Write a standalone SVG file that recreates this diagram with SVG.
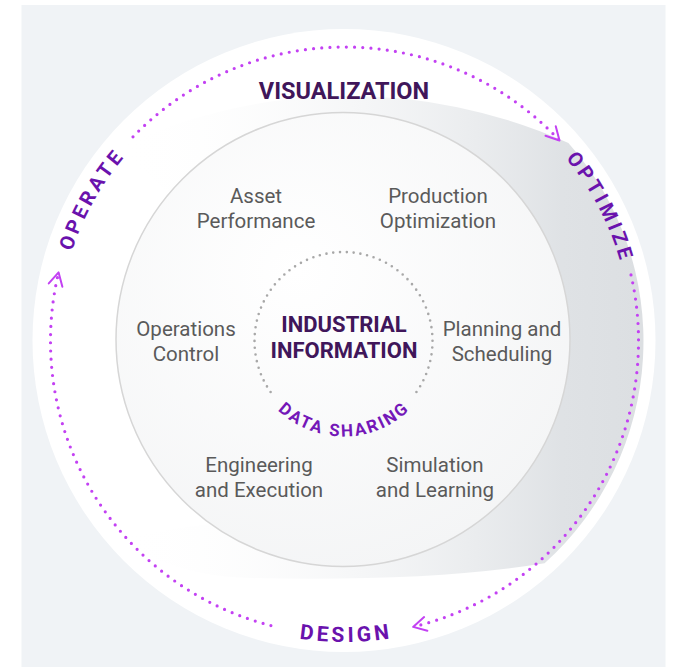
<svg xmlns="http://www.w3.org/2000/svg" width="674" height="669" viewBox="0 0 674 669">
<defs>
<style>
.lbl{font-family:Roboto,'Liberation Sans',sans-serif;font-size:20.5px;fill:#5a5a5a;text-anchor:middle}
.core{font-family:Roboto,'Liberation Sans',sans-serif;font-size:22px;font-weight:700;fill:#40165a;text-anchor:middle}
.ring{font-family:Roboto,'Liberation Sans',sans-serif;font-size:20px;font-weight:700;fill:#6a12ad;letter-spacing:3.5px}
.share{font-family:Roboto,'Liberation Sans',sans-serif;font-size:17px;font-weight:700;fill:#7417b8;letter-spacing:2.2px}
.flow{fill:none;stroke:#c341f3;stroke-width:3.2;stroke-linecap:round;stroke-dasharray:0 8.2}
.gdots{fill:none;stroke:#a8a8a8;stroke-width:2.6;stroke-linecap:round;stroke-dasharray:0 6.8}
</style>
<linearGradient id="rib" gradientUnits="userSpaceOnUse" x1="120" y1="0" x2="640" y2="0">
<stop offset="0" stop-color="#ffffff" stop-opacity="0"/>
<stop offset="0.5" stop-color="#eceef0" stop-opacity="0.6"/>
<stop offset="0.85" stop-color="#dfe2e5"/>
<stop offset="1" stop-color="#dcdfe2"/>
</linearGradient>
<radialGradient id="inner" cx="0.4" cy="0.35" r="0.75">
<stop offset="0" stop-color="#ffffff"/>
<stop offset="1" stop-color="#f3f4f5"/>
</radialGradient>
<marker id="arr" markerUnits="userSpaceOnUse" markerWidth="30" markerHeight="30" viewBox="-15 -15 30 30" refX="0" refY="0" orient="auto" overflow="visible">
<path d="M-13,-7 L0,0 L-13,7" fill="none" stroke="#c341f3" stroke-width="2" stroke-linecap="round" stroke-linejoin="round"/>
</marker>
<path id="pOperate" d="M57.5,344.8 A287,287 0 0 1 197.8,94.4"/>
<path id="pOptimize" d="M498.3,98.7 A287,287 0 0 1 631.2,353"/>
<path id="pDesign" d="M195.4,602.4 A301,301 0 0 0 496.4,600.9"/>
<path id="pShare" d="M249.45,357.6 A95.5,95.5 0 0 0 437.8,355.9"/>
</defs>

<rect x="21.5" y="5" width="644" height="662" fill="#f0f3f6"/>
<circle cx="344" cy="340.5" r="311.5" fill="#ffffff"/>
<path d="M115.5,148.8 A540,540 0 0 1 568.4,142.9 A299,299 0 0 1 544.6,563.2 Q430,582 250,578 Q170,576 120,538 Q300,505 450,515 L300,300 Z" fill="url(#rib)"/>
<circle cx="343" cy="339.5" r="227" fill="url(#inner)" stroke="#d6d6d6" stroke-width="1.5"/>

<g id="connectors">
<path class="flow" d="M133,136.8 A294,294 0 0 1 559.5,140.5" marker-end="url(#arr)"/>
<path class="flow" d="M631,274.9 A294,294 0 0 1 413.1,626.9" marker-end="url(#arr)"/>
<path class="flow" d="M270.9,625.6 A294,294 0 0 1 58.6,272.4" marker-end="url(#arr)"/>
</g>

<g id="operate"><text class="ring"><textPath href="#pOperate" startOffset="50%" text-anchor="middle">OPERATE</textPath></text></g>
<g id="optimize"><text class="ring"><textPath href="#pOptimize" startOffset="50%" text-anchor="middle">OPTIMIZE</textPath></text></g>
<g id="design"><text class="ring" style="font-size:21px;letter-spacing:3.4px"><textPath href="#pDesign" startOffset="50%" text-anchor="middle">DESIGN</textPath></text></g>

<g id="visualization"><text x="344" y="98.5" class="core" style="font-size:23.5px">VISUALIZATION</text></g>

<g id="asset-performance"><text class="lbl" x="256" y="203">Asset</text><text class="lbl" x="256" y="228">Performance</text></g>
<g id="production-optimization"><text class="lbl" x="438" y="203">Production</text><text class="lbl" x="438" y="228">Optimization</text></g>
<g id="operations-control"><text class="lbl" x="186" y="336">Operations</text><text class="lbl" x="186" y="361">Control</text></g>
<g id="planning-scheduling"><text class="lbl" x="502" y="336">Planning and</text><text class="lbl" x="502" y="361">Scheduling</text></g>
<g id="engineering-execution"><text class="lbl" x="259" y="472">Engineering</text><text class="lbl" x="259" y="497">and Execution</text></g>
<g id="simulation-learning"><text class="lbl" x="435" y="472">Simulation</text><text class="lbl" x="435" y="497">and Learning</text></g>

<g id="industrial-information">
<path class="gdots" d="M270.6,392.05 A89,89 0 1 1 412.7,397"/>
<text class="core" x="344" y="332">INDUSTRIAL</text>
<text class="core" x="344" y="358">INFORMATION</text>
<text class="share"><textPath href="#pShare" startOffset="50%" text-anchor="middle">DATA SHARING</textPath></text>
</g>
</svg>
